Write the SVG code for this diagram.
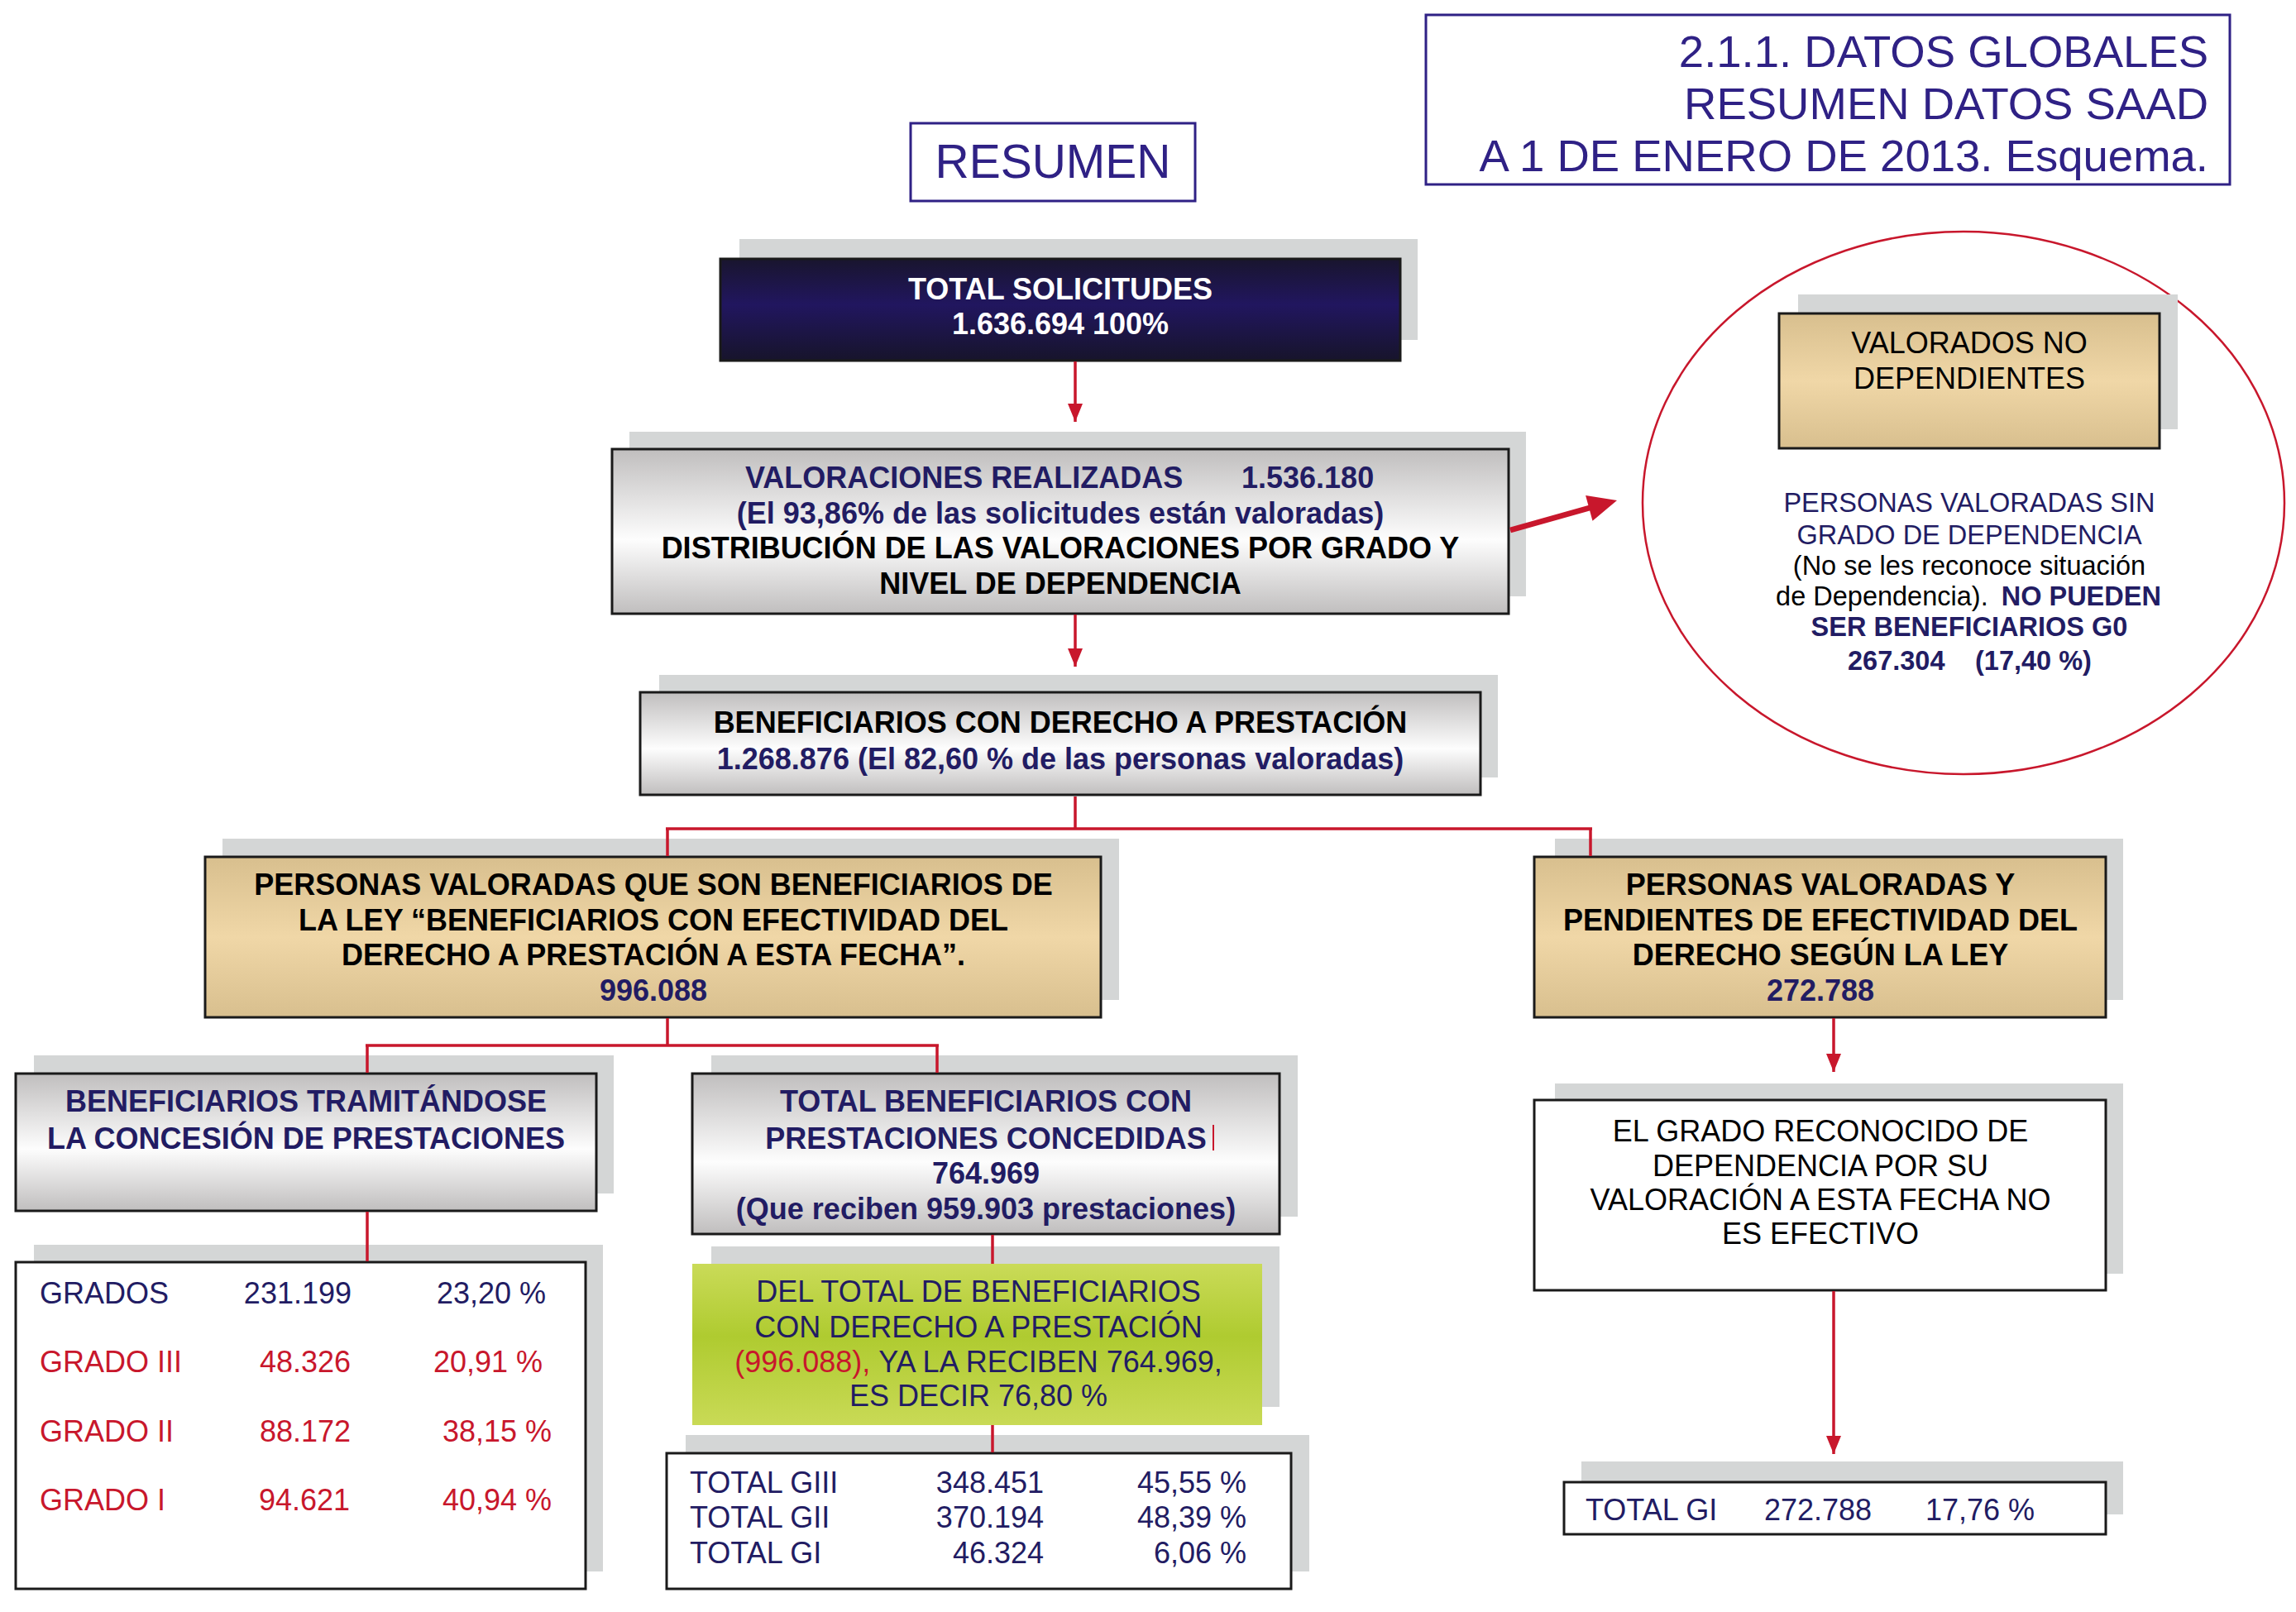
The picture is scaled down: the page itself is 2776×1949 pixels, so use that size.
<svg xmlns="http://www.w3.org/2000/svg" width="2776" height="1949" viewBox="0 0 2776 1949">
<defs>
<linearGradient id="gGray" x1="0" y1="0" x2="0" y2="1">
<stop offset="0" stop-color="#c0bebe"/><stop offset="0.55" stop-color="#fdfdfd"/><stop offset="1" stop-color="#c0bebe"/>
</linearGradient>
<linearGradient id="gTan" x1="0" y1="0" x2="0" y2="1">
<stop offset="0" stop-color="#d8bf8e"/><stop offset="0.5" stop-color="#f0d7a7"/><stop offset="1" stop-color="#d8bf8e"/>
</linearGradient>
<linearGradient id="gNavy" x1="0" y1="0" x2="0" y2="1">
<stop offset="0" stop-color="#19152e"/><stop offset="0.45" stop-color="#21165f"/><stop offset="1" stop-color="#17142b"/>
</linearGradient>
<linearGradient id="gGreen" x1="0" y1="0" x2="0" y2="1">
<stop offset="0" stop-color="#cadb58"/><stop offset="0.45" stop-color="#afcb30"/><stop offset="1" stop-color="#c9da56"/>
</linearGradient>
<marker id="ah" markerUnits="userSpaceOnUse" markerWidth="22" markerHeight="18" viewBox="0 0 22 18" refX="22" refY="9" orient="auto">
<path d="M0,0 L22,9 L0,18 z" fill="#c8172c"/>
</marker>
</defs>
<style>
text{font-family:"Liberation Sans",Arial,sans-serif;}
.sh{fill:#d4d6d6;}
.bx{stroke:#1a1a1a;stroke-width:3;}
.b{font-weight:bold;font-size:36px;}
.r{font-size:36px;}
.c{text-anchor:middle;}
.e{text-anchor:end;}
.nv{fill:#221c63;}
.bk{fill:#000;}
.rd{fill:#c8172c;}
.wh{fill:#fff;}
.ln{stroke:#c8172c;stroke-width:3.5;fill:none;}
.el{font-size:32.5px;}
</style>

<g id="title">
<rect x="1724" y="18" width="972" height="205" fill="#fff" stroke="#2f2185" stroke-width="3"/>
<text x="2670" y="81" font-size="54.5" fill="#2f2185" text-anchor="end">2.1.1. DATOS GLOBALES</text>
<text x="2670" y="144" font-size="54.5" fill="#2f2185" text-anchor="end">RESUMEN DATOS SAAD</text>
<text x="2670" y="207" font-size="54.5" fill="#2f2185" text-anchor="end">A 1 DE ENERO DE 2013. Esquema.</text>
</g>

<g id="resumen">
<rect x="1101" y="149" width="344" height="94" fill="#fff" stroke="#2f2185" stroke-width="3"/>
<text x="1273" y="215" font-size="57" fill="#2f2185" text-anchor="middle">RESUMEN</text>
</g>

<g id="solicitudes">
<rect class="sh" x="894" y="289" width="820" height="122"/>
<rect class="bx" x="871" y="313" width="822" height="123" fill="url(#gNavy)"/>
<text class="b c wh" x="1282" y="362">TOTAL SOLICITUDES</text>
<text class="b c wh" x="1282" y="404"><tspan>1.636.694</tspan><tspan dx="10">100%</tspan></text>
</g>

<g id="valoraciones">
<rect class="sh" x="761" y="522" width="1084" height="199"/>
<rect class="bx" x="740" y="543" width="1084" height="199" fill="url(#gGray)"/>
<text class="b nv" y="590"><tspan x="901">VALORACIONES REALIZADAS</tspan><tspan x="1501">1.536.180</tspan></text>
<text class="b c nv" x="1282" y="633">(El 93,86% de las solicitudes están valoradas)</text>
<text class="b c bk" x="1282" y="675">DISTRIBUCIÓN DE LAS VALORACIONES POR GRADO Y</text>
<text class="b c bk" x="1282" y="718">NIVEL DE DEPENDENCIA</text>
</g>

<g id="no-dependientes">
<ellipse cx="2374" cy="608" rx="388" ry="328" fill="none" stroke="#c8172c" stroke-width="2.5"/>
<rect class="sh" x="2174" y="356" width="459" height="163"/>
<rect class="bx" x="2151" y="379" width="460" height="163" fill="url(#gTan)"/>
<text class="r c bk" x="2381" y="427">VALORADOS NO</text>
<text class="r c bk" x="2381" y="470">DEPENDIENTES</text>
<text class="el c nv" x="2381" y="619">PERSONAS VALORADAS SIN</text>
<text class="el c nv" x="2381" y="658">GRADO DE DEPENDENCIA</text>
<text class="el c bk" x="2381" y="695">(No se les reconoce situación</text>
<text class="el c" x="2380" y="732"><tspan class="bk">de Dependencia).</tspan><tspan class="nv" font-weight="bold" dx="16">NO PUEDEN</tspan></text>
<text class="el c nv" x="2381" y="769" font-weight="bold">SER BENEFICIARIOS G0</text>
<text class="el nv" y="810" font-weight="bold"><tspan x="2234">267.304</tspan><tspan x="2388">(17,40 %)</tspan></text>
</g>

<g id="beneficiarios-derecho">
<rect class="sh" x="797" y="816" width="1014" height="124"/>
<rect class="bx" x="774" y="837" width="1016" height="124" fill="url(#gGray)"/>
<text class="b c bk" x="1282" y="886">BENEFICIARIOS CON DERECHO A PRESTACIÓN</text>
<text class="b c nv" x="1282" y="930">1.268.876 (El 82,60 % de las personas valoradas)</text>
</g>

<g id="efectividad">
<rect class="sh" x="269" y="1014" width="1084" height="195"/>
<rect class="bx" x="248" y="1036" width="1083" height="194" fill="url(#gTan)"/>
<text class="b c bk" x="790" y="1082">PERSONAS VALORADAS QUE SON BENEFICIARIOS DE</text>
<text class="b c bk" x="790" y="1125">LA LEY “BENEFICIARIOS CON EFECTIVIDAD DEL</text>
<text class="b c bk" x="790" y="1167">DERECHO A PRESTACIÓN A ESTA FECHA”.</text>
<text class="b c nv" x="790" y="1210">996.088</text>
</g>

<g id="pendientes">
<rect class="sh" x="1880" y="1014" width="687" height="195"/>
<rect class="bx" x="1855" y="1036" width="691" height="194" fill="url(#gTan)"/>
<text class="b c bk" x="2201" y="1082">PERSONAS VALORADAS Y</text>
<text class="b c bk" x="2201" y="1125">PENDIENTES DE EFECTIVIDAD DEL</text>
<text class="b c bk" x="2201" y="1167">DERECHO SEGÚN LA LEY</text>
<text class="b c nv" x="2201" y="1210">272.788</text>
</g>

<g id="tramitandose">
<rect class="sh" x="41" y="1276" width="701" height="167"/>
<rect class="bx" x="19" y="1298" width="702" height="166" fill="url(#gGray)"/>
<text class="b c nv" x="370" y="1344">BENEFICIARIOS TRAMITÁNDOSE</text>
<text class="b c nv" x="370" y="1389">LA CONCESIÓN DE PRESTACIONES</text>
</g>

<g id="concedidas">
<rect class="sh" x="860" y="1276" width="709" height="195"/>
<rect class="bx" x="837" y="1298" width="710" height="194" fill="url(#gGray)"/>
<text class="b c nv" x="1192" y="1344">TOTAL BENEFICIARIOS CON</text>
<text class="b c nv" x="1192" y="1389">PRESTACIONES CONCEDIDAS</text>
<line x1="1467" y1="1360" x2="1467" y2="1391" stroke="#c8172c" stroke-width="2"/>
<text class="b c nv" x="1192" y="1431">764.969</text>
<text class="b c nv" x="1192" y="1474">(Que reciben 959.903 prestaciones)</text>
</g>

<g id="grados">
<rect class="sh" x="41" y="1505" width="688" height="395"/>
<rect class="bx" x="19" y="1526" width="689" height="395" fill="#fff"/>
<text class="r nv" x="48" y="1576">GRADOS</text>
<text class="r nv e" x="425" y="1576">231.199</text>
<text class="r nv" x="528" y="1576">23,20 %</text>
<text class="r rd" x="48" y="1659">GRADO III</text>
<text class="r rd e" x="424" y="1659">48.326</text>
<text class="r rd" x="524" y="1659">20,91 %</text>
<text class="r rd" x="48" y="1743">GRADO II</text>
<text class="r rd e" x="424" y="1743">88.172</text>
<text class="r rd" x="535" y="1743">38,15 %</text>
<text class="r rd" x="48" y="1826">GRADO I</text>
<text class="r rd e" x="423" y="1826">94.621</text>
<text class="r rd" x="535" y="1826">40,94 %</text>
</g>

<g id="del-total">
<rect class="sh" x="860" y="1507" width="687" height="194"/>
<rect x="837" y="1528" width="689" height="195" fill="url(#gGreen)"/>
<text class="r c nv" x="1183" y="1574">DEL TOTAL DE BENEFICIARIOS</text>
<text class="r c nv" x="1183" y="1617">CON DERECHO A PRESTACIÓN</text>
<text class="r c" x="1183" y="1659"><tspan class="rd">(996.088),</tspan><tspan class="nv" dx="10">YA LA RECIBEN 764.969,</tspan></text>
<text class="r c nv" x="1183" y="1700">ES DECIR 76,80 %</text>
</g>

<g id="totales-grado">
<rect class="sh" x="829" y="1735" width="754" height="165"/>
<rect class="bx" x="806" y="1757" width="755" height="164" fill="#fff"/>
<text class="r nv" x="834" y="1805">TOTAL GIII</text>
<text class="r nv e" x="1262" y="1805">348.451</text>
<text class="r nv e" x="1507" y="1805">45,55 %</text>
<text class="r nv" x="834" y="1847">TOTAL GII</text>
<text class="r nv e" x="1262" y="1847">370.194</text>
<text class="r nv e" x="1507" y="1847">48,39 %</text>
<text class="r nv" x="834" y="1890">TOTAL GI</text>
<text class="r nv e" x="1262" y="1890">46.324</text>
<text class="r nv e" x="1507" y="1890">6,06 %</text>
</g>

<g id="no-efectivo">
<rect class="sh" x="1880" y="1310" width="687" height="230"/>
<rect class="bx" x="1855" y="1330" width="691" height="230" fill="#fff"/>
<text class="r c bk" x="2201" y="1380">EL GRADO RECONOCIDO DE</text>
<text class="r c bk" x="2201" y="1422">DEPENDENCIA POR SU</text>
<text class="r c bk" x="2201" y="1463">VALORACIÓN A ESTA FECHA NO</text>
<text class="r c bk" x="2201" y="1504">ES EFECTIVO</text>
</g>

<g id="total-gi">
<rect class="sh" x="1912" y="1767" width="655" height="64"/>
<rect class="bx" x="1891" y="1792" width="655" height="63" fill="#fff"/>
<text class="r nv" x="1917" y="1838">TOTAL GI</text>
<text class="r nv" x="2133" y="1838">272.788</text>
<text class="r nv" x="2328" y="1838">17,76 %</text>
</g>

<g id="connectors">
<line class="ln" x1="1300" y1="437" x2="1300" y2="510" marker-end="url(#ah)"/>
<line class="ln" x1="1300" y1="743" x2="1300" y2="806" marker-end="url(#ah)"/>
<line x1="1826" y1="641" x2="1922" y2="614" stroke="#c8172c" stroke-width="7"/>
<polygon points="1955,605 1925.5,629.7 1917.1,598.9" fill="#c8172c"/>
<path class="ln" d="M1300,963 V1002 M805,1002 H1925 M807,1002 V1035 M1923,1002 V1035" stroke-width="4"/>
<path class="ln" d="M807,1231 V1264 M442,1264 H1135 M444,1264 V1297 M1133,1264 V1297"/>
<line class="ln" x1="2217" y1="1231" x2="2217" y2="1296" marker-end="url(#ah)"/>
<line class="ln" x1="444" y1="1465" x2="444" y2="1525"/>
<line class="ln" x1="1200" y1="1493" x2="1200" y2="1528"/>
<line class="ln" x1="1200" y1="1723" x2="1200" y2="1756"/>
<line class="ln" x1="2217" y1="1561" x2="2217" y2="1758" marker-end="url(#ah)"/>
</g>
</svg>
